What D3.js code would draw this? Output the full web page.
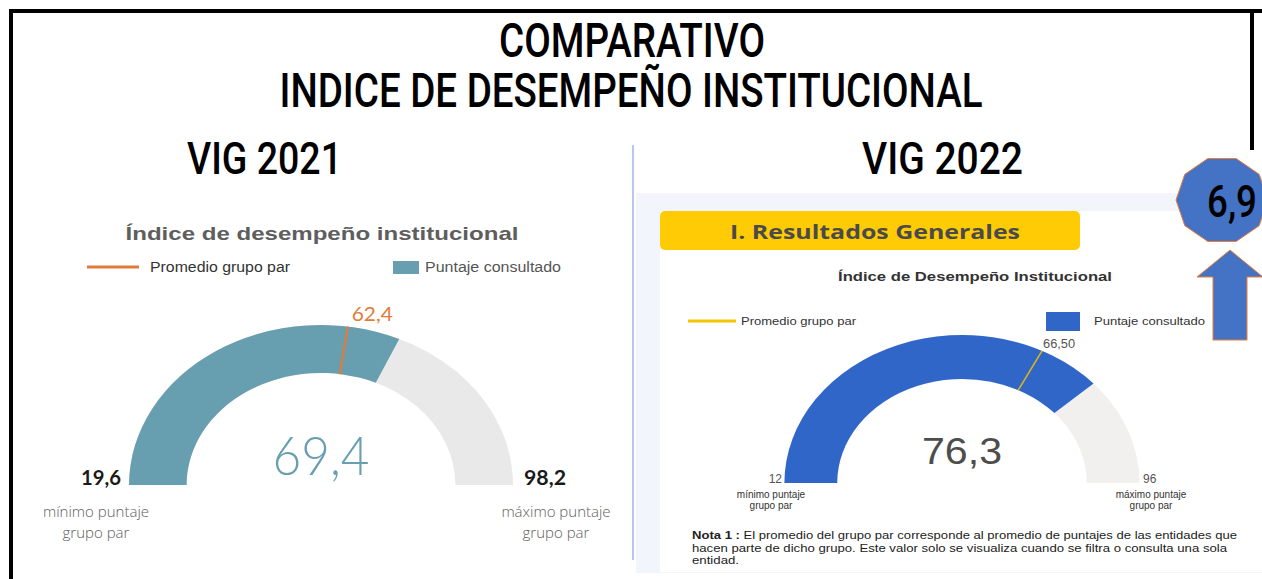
<!DOCTYPE html>
<html>
<head>
<meta charset="utf-8">
<script src="https://cdn.jsdelivr.net/npm/d3@7"></script>
<style>
  html, body { margin: 0; padding: 0; background: #fff; }
  svg { display: block; }
</style>
</head>
<body>
<svg id="chart" width="1262" height="579"></svg>
<script>
// ---------------- DATA ----------------
const mainTitle = ["COMPARATIVO", "INDICE DE DESEMPEÑO INSTITUCIONAL"];
const panelNames = ["VIG 2021", "VIG 2022"];
const gaugeTitles = ["Índice de desempeño institucional", "Índice de Desempeño Institucional"];
const legendLabels = ["Promedio grupo par", "Puntaje consultado"];
const minScores = [19.6, 12];
const maxScores = [98.2, 96];
const scores = [69.4, 76.3];
const peerAverages = [62.4, 66.50];
const minLabel = ["mínimo puntaje", "grupo par"];
const maxLabel = ["máximo puntaje", "grupo par"];
const sectionTitle = "I. Resultados Generales";
const noteBold = "Nota 1 :";
const noteLines = [
  " El promedio del grupo par corresponde al promedio de puntajes de las entidades que",
  "hacen parte de dicho grupo.  Este valor solo se visualiza cuando se filtra o consulta una sola",
  "entidad."
];
const difference = 6.9;

// ---------------- HELPERS ----------------
const loc = d3.formatLocale({decimal: ",", thousands: ".", grouping: [3], currency: ["$", ""]});
const f1 = loc.format(".1f"), f2 = loc.format(".2f"), f0 = loc.format(".0f");

const svg = d3.select("#chart");

// ---------------- FRAME ----------------
const frame = svg.append("g").attr("stroke", "#000").attr("stroke-width", 4);
frame.append("line").attr("x1", 9).attr("x2", 1262).attr("y1", 11).attr("y2", 11);
frame.append("line").attr("x1", 11).attr("x2", 11).attr("y1", 9).attr("y2", 579);
frame.append("line").attr("x1", 1252).attr("x2", 1252).attr("y1", 9).attr("y2", 150);

// main title
const titleFont = "Roboto, 'DejaVu Sans', sans-serif";
svg.append("text").attr("x", 632).attr("y", 57).attr("text-anchor", "middle")
  .attr("font-family", titleFont).attr("font-weight", 500).attr("font-size", 49)
  .attr("textLength", 266).attr("lengthAdjust", "spacingAndGlyphs").text(mainTitle[0]);
svg.append("text").attr("x", 631).attr("y", 107).attr("text-anchor", "middle")
  .attr("font-family", titleFont).attr("font-weight", 500).attr("font-size", 49)
  .attr("textLength", 703).attr("lengthAdjust", "spacingAndGlyphs").text(mainTitle[1]);

// panel names
const panelPos = [{x: 187, w: 155}, {x: 862, w: 161}];
panelNames.forEach((n, i) => {
  svg.append("text").attr("x", panelPos[i].x).attr("y", 174)
    .attr("font-family", titleFont).attr("font-weight", 500).attr("font-size", 44)
    .attr("textLength", panelPos[i].w).attr("lengthAdjust", "spacingAndGlyphs").text(n);
});

// divider
svg.append("line").attr("x1", 633).attr("x2", 633).attr("y1", 145).attr("y2", 560)
  .attr("stroke", "#9fb6e2").attr("stroke-width", 1.5);

// right panel background
svg.append("rect").attr("x", 636).attr("y", 193).attr("width", 626).attr("height", 380).attr("fill", "#f2f5fc");
svg.append("rect").attr("x", 660).attr("y", 211).attr("width", 602).attr("height", 361).attr("fill", "#ffffff");

// section title box
svg.append("rect").attr("x", 660).attr("y", 211).attr("width", 420).attr("height", 39).attr("rx", 5)
  .attr("fill", "#ffcb05");
svg.append("text").attr("x", 875).attr("y", 239).attr("text-anchor", "middle")
  .attr("font-family", "'Open Sans', Roboto, sans-serif").attr("font-weight", 700).attr("font-size", 20)
  .attr("fill", "#4a4a4a").attr("textLength", 290).attr("lengthAdjust", "spacingAndGlyphs").text(sectionTitle);

// ---------------- GAUGES ----------------
const layout = [
  {cx: 321, cy: 485, rO: 160, rI: 112, sx: 1.2, fill: "#689fb0", bg: "#e9e9e9", avg: "#e07b39", avgW: 2.2},
  {cx: 962, cy: 483, rO: 148, rI: 104, sx: 1.2, fill: "#3166c9", bg: "#f1f0ef", avg: "#d9b51a", avgW: 1.6}
];

layout.forEach((L, i) => {
  const ang = d3.scaleLinear().domain([minScores[i], maxScores[i]]).range([-Math.PI / 2, Math.PI / 2]);
  const arc = d3.arc().innerRadius(L.rI).outerRadius(L.rO);
  const g = svg.append("g").attr("transform", `translate(${L.cx},${L.cy}) scale(${L.sx},1)`);
  g.append("path").attr("d", arc({startAngle: -Math.PI / 2, endAngle: Math.PI / 2})).attr("fill", L.bg);
  g.append("path").attr("d", arc({startAngle: -Math.PI / 2, endAngle: ang(scores[i])})).attr("fill", L.fill);
  const a = ang(peerAverages[i]);
  g.append("line")
    .attr("x1", L.rI * Math.sin(a)).attr("y1", -L.rI * Math.cos(a))
    .attr("x2", L.rO * Math.sin(a)).attr("y2", -L.rO * Math.cos(a))
    .attr("stroke", L.avg).attr("stroke-width", L.avgW).attr("vector-effect", "non-scaling-stroke");
  L.ax = L.cx + L.sx * L.rO * Math.sin(a);
  L.ay = L.cy - L.rO * Math.cos(a);
});

// ---- left gauge texts ----
{
  const L = layout[0];
  svg.append("text").attr("x", 322).attr("y", 240).attr("text-anchor", "middle")
    .attr("font-family", "'Liberation Sans', Arial, sans-serif").attr("font-weight", 700).attr("font-size", 19)
    .attr("fill", "#5e5e5e").attr("textLength", 393).attr("lengthAdjust", "spacingAndGlyphs").text(gaugeTitles[0]);
  svg.append("line").attr("x1", 87).attr("x2", 139).attr("y1", 267).attr("y2", 267)
    .attr("stroke", L.avg).attr("stroke-width", 3);
  svg.append("text").attr("x", 150).attr("y", 272).attr("font-family", "'Liberation Sans', Arial, sans-serif")
    .attr("font-size", 14).attr("fill", "#333").attr("textLength", 140).attr("lengthAdjust", "spacingAndGlyphs")
    .text(legendLabels[0]);
  svg.append("rect").attr("x", 393).attr("y", 261).attr("width", 26).attr("height", 13).attr("fill", L.fill);
  svg.append("text").attr("x", 425).attr("y", 272).attr("font-family", "'Liberation Sans', Arial, sans-serif")
    .attr("font-size", 14).attr("fill", "#555").attr("textLength", 136).attr("lengthAdjust", "spacingAndGlyphs")
    .text(legendLabels[1]);
  svg.append("text").attr("x", L.ax + 4).attr("y", L.ay - 6)
    .attr("font-family", "Lato, 'Open Sans', sans-serif").attr("font-size", 19).attr("fill", "#e07b39")
    .attr("textLength", 41).attr("lengthAdjust", "spacingAndGlyphs").text(f1(peerAverages[0]));
  svg.append("text").attr("x", L.cx).attr("y", 475).attr("text-anchor", "middle")
    .attr("font-family", "Lato, 'Open Sans', sans-serif").attr("font-weight", 300).attr("font-size", 54)
    .attr("fill", "#689fb0").attr("textLength", 97).attr("lengthAdjust", "spacingAndGlyphs").text(f1(scores[0]));
  svg.append("text").attr("x", 121).attr("y", 485).attr("text-anchor", "end")
    .attr("font-family", "Lato, 'Open Sans', sans-serif").attr("font-weight", 700).attr("font-size", 20)
    .attr("fill", "#1a1a1a").attr("textLength", 40).attr("lengthAdjust", "spacingAndGlyphs").text(f1(minScores[0]));
  svg.append("text").attr("x", 524).attr("y", 485)
    .attr("font-family", "Lato, 'Open Sans', sans-serif").attr("font-weight", 700).attr("font-size", 20)
    .attr("fill", "#1a1a1a").attr("textLength", 42).attr("lengthAdjust", "spacingAndGlyphs").text(f1(maxScores[0]));
  [[96, minLabel], [556, maxLabel]].forEach(([x, lab]) => {
    lab.forEach((t, k) => {
      svg.append("text").attr("x", x).attr("y", 517 + k * 21).attr("text-anchor", "middle")
        .attr("font-family", "'Open Sans', sans-serif").attr("font-weight", 300).attr("font-size", 15)
        .attr("fill", "#605e5c").text(t);
    });
  });
}

// ---- right gauge texts ----
{
  const L = layout[1];
  const arial = "'Liberation Sans', Arial, sans-serif";
  svg.append("text").attr("x", 975).attr("y", 281).attr("text-anchor", "middle")
    .attr("font-family", arial).attr("font-weight", 700).attr("font-size", 13.5)
    .attr("fill", "#333").attr("textLength", 274).attr("lengthAdjust", "spacingAndGlyphs").text(gaugeTitles[1]);
  svg.append("line").attr("x1", 688).attr("x2", 736).attr("y1", 321).attr("y2", 321)
    .attr("stroke", "#f5c400").attr("stroke-width", 3);
  svg.append("text").attr("x", 741).attr("y", 325).attr("font-family", arial)
    .attr("font-size", 11).attr("fill", "#333").attr("textLength", 115).attr("lengthAdjust", "spacingAndGlyphs")
    .text(legendLabels[0]);
  svg.append("rect").attr("x", 1046).attr("y", 312).attr("width", 34).attr("height", 19).attr("fill", L.fill);
  svg.append("text").attr("x", 1094).attr("y", 325).attr("font-family", arial)
    .attr("font-size", 11).attr("fill", "#333").attr("textLength", 111).attr("lengthAdjust", "spacingAndGlyphs")
    .text(legendLabels[1]);
  svg.append("text").attr("x", L.ax + 1).attr("y", L.ay - 3).attr("font-family", arial)
    .attr("font-size", 12).attr("fill", "#555").attr("textLength", 32).attr("lengthAdjust", "spacingAndGlyphs")
    .text(f2(peerAverages[1]));
  svg.append("text").attr("x", L.cx).attr("y", 464).attr("text-anchor", "middle").attr("font-family", arial)
    .attr("font-size", 36).attr("fill", "#4d4d4d").attr("textLength", 80).attr("lengthAdjust", "spacingAndGlyphs")
    .text(f1(scores[1]));
  svg.append("text").attr("x", 782).attr("y", 483).attr("text-anchor", "end").attr("font-family", arial)
    .attr("font-size", 12).attr("fill", "#555").text(f0(minScores[1]));
  svg.append("text").attr("x", 1143).attr("y", 483).attr("font-family", arial)
    .attr("font-size", 12).attr("fill", "#555").text(f0(maxScores[1]));
  [[771, minLabel], [1151, maxLabel]].forEach(([x, lab]) => {
    lab.forEach((t, k) => {
      svg.append("text").attr("x", x).attr("y", 498 + k * 11).attr("text-anchor", "middle")
        .attr("font-family", arial).attr("font-size", 10).attr("fill", "#333").text(t);
    });
  });
  const lens = [545, 535, 47];
  noteLines.forEach((t, k) => {
    const tx = svg.append("text").attr("x", 692).attr("y", 539 + k * 12.5).attr("font-family", arial)
      .attr("font-size", 11).attr("fill", "#222").attr("textLength", lens[k]).attr("lengthAdjust", "spacingAndGlyphs");
    if (k === 0) tx.append("tspan").attr("font-weight", 700).text(noteBold);
    tx.append("tspan").text(t);
  });
}

// ---------------- DIFFERENCE BADGE ----------------
{
  const blue = "#4472c4", edge = "#ed7d31";
  const cx = 1222, cy = 200, Rx = 46, Ry = 43.6;
  const pts = d3.range(10).map(k => {
    const a = k * Math.PI / 5;
    return [cx + Rx * Math.cos(a), cy + Ry * Math.sin(a)];
  });
  svg.append("path").attr("d", d3.line()(pts) + "Z").attr("fill", blue).attr("stroke", edge).attr("stroke-width", 1);
  svg.append("text").attr("x", 1207).attr("y", 217).attr("font-family", titleFont).attr("font-weight", 500)
    .attr("font-size", 44).attr("fill", "#000").attr("textLength", 50).attr("lengthAdjust", "spacingAndGlyphs")
    .text(f1(difference));
  const arrow = [[1230, 250], [1263, 277], [1247, 277], [1247, 340], [1213, 340], [1213, 277], [1197, 277]];
  svg.append("path").attr("d", d3.line()(arrow) + "Z").attr("fill", blue).attr("stroke", edge).attr("stroke-width", 1);
}
</script>
</body>
</html>
